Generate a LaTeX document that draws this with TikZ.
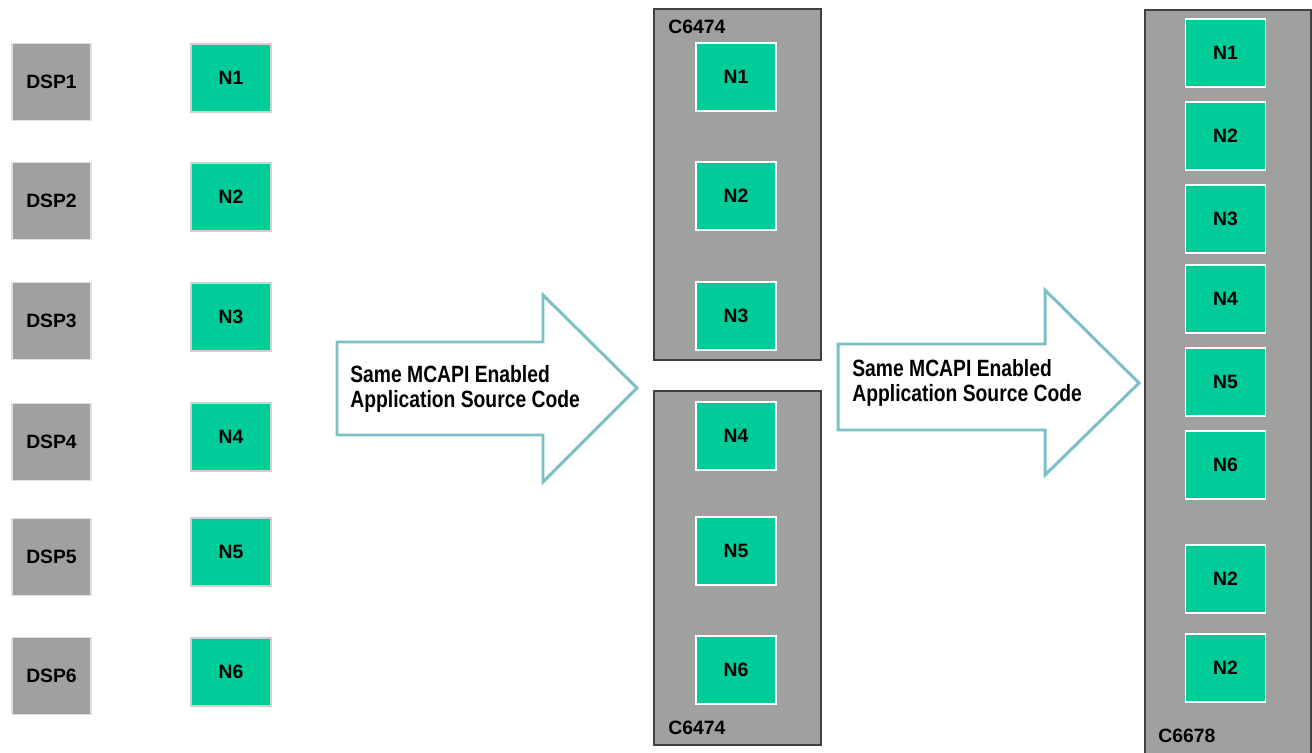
\documentclass[tikz,border=0pt]{standalone}
\usepackage{fontspec}
\setmainfont{Liberation Sans}
\newfontfamily\arrowfont{Liberation Sans}[FakeStretch=0.82]
\definecolor{dspgray}{RGB}{160,160,160}
\definecolor{nodegreen}{RGB}{0,204,153}
\definecolor{arrowteal}{RGB}{122,192,196}
\definecolor{chipedge}{RGB}{64,64,64}
\begin{document}
\begin{tikzpicture}[x=0.02cm,y=-0.02cm,
   dspbox/.style={draw=black!12,line width=0.8pt,fill=dspgray,minimum width=1.58cm,minimum height=1.54cm,inner sep=0pt,font=\bfseries\fontsize{11}{13}\selectfont},
   nbox/.style={draw=black!18,line width=0.8pt,fill=nodegreen,minimum width=1.6cm,minimum height=1.36cm,inner sep=0pt,font=\bfseries\fontsize{11}{13}\selectfont},
   innerbox/.style={nbox,draw=white},
   chipbox/.style={draw=chipedge,line width=0.9pt,fill=dspgray,inner sep=0pt},
   chiplabel/.style={anchor=west,inner sep=0pt,font=\bfseries\fontsize{11}{13}\selectfont},
   arrowline/.style={draw=arrowteal,line width=1.7pt,fill=white,line join=miter},
   arrowtext/.style={anchor=west,align=left,inner sep=0pt,font=\arrowfont\bfseries\fontsize{13.4}{14.2}\selectfont}]
   \useasboundingbox (0,0) rectangle (1312,753);
   % separate processors
   \foreach \i/\y in {1/82,2/201,3/321,4/442,5/557,6/676}
      \node[dspbox] (dsp\i) at (51.5,\y) {DSP\i};
   \foreach \i/\y in {1/78,2/197,3/317,4/437,5/552,6/672}
      \node[nbox] (n\i) at (231,\y) {N\i};
   % first arrow
   \draw[arrowline] (337,342) -- (543,342) -- (543,295) -- (637,388) -- (543,482) -- (543,435) -- (337,435) -- cycle;
   \node[arrowtext] (txtA) at (350,389) {Same MCAPI Enabled\\Application Source Code};
   % two C6474 devices
   \node[chipbox,minimum width=3.34cm,minimum height=7.02cm] (chipA) at (737.5,184.5) {};
   \node[chipbox,minimum width=3.34cm,minimum height=7.08cm] (chipB) at (737.5,568) {};
   \node[chiplabel] (labA) at (668,27) {C6474};
   \node[chiplabel] (labB) at (668,728) {C6474};
   \foreach \i/\y in {1/77,2/196,3/316,4/436,5/551,6/670}
      \node[innerbox] (m\i) at (736,\y) {N\i};
   % second arrow
   \draw[arrowline] (838,344) -- (1045,344) -- (1045,290) -- (1139,383) -- (1045,475) -- (1045,430) -- (838,430) -- cycle;
   \node[arrowtext] (txtB) at (852,383) {Same MCAPI Enabled\\Application Source Code};
   % one C6678 device
   \node[chipbox,minimum width=3.32cm,minimum height=15.3cm,anchor=north west] (chipC) at (1144,9) {};
   \node[chiplabel] (labC) at (1158,736) {C6678};
   \foreach \i/\t/\y in {1/N1/53,2/N2/136,3/N3/219,4/N4/299,5/N5/382,6/N6/465,7/N2/579,8/N2/668}
      \node[innerbox] (k\i) at (1225.5,\y) {\t};
\end{tikzpicture}
\end{document}
